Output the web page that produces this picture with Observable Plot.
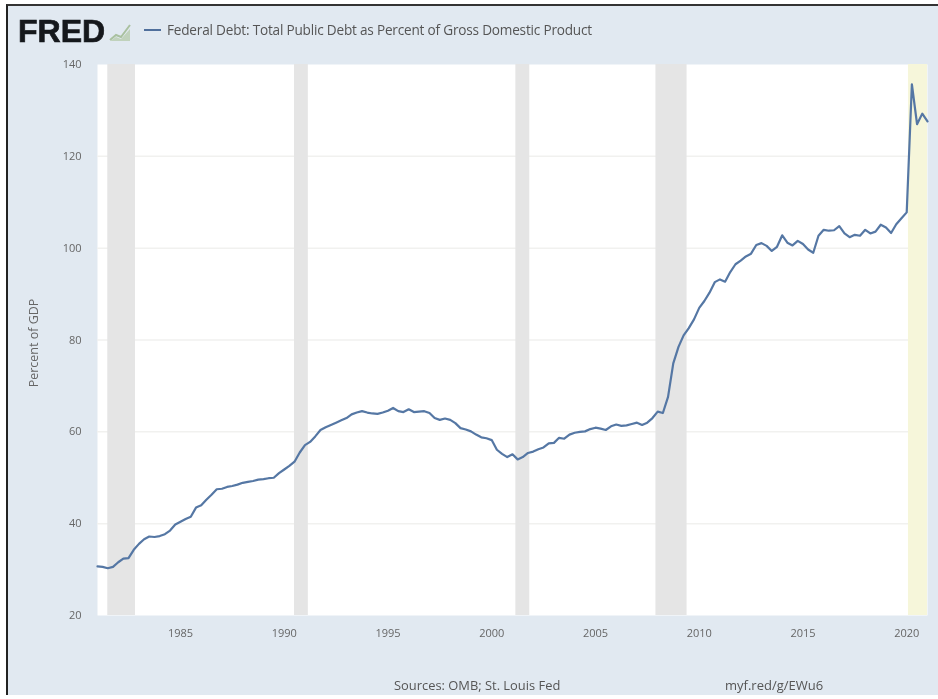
<!DOCTYPE html>
<html><head><meta charset="utf-8">
<script src="https://cdn.jsdelivr.net/npm/d3@7"></script>
<script src="https://cdn.jsdelivr.net/npm/@observablehq/plot@0.6"></script>
<style>
html,body{margin:0;padding:0;background:#fff;overflow:hidden}
#page{position:relative;width:938px;height:699px;overflow:hidden;filter:blur(0.7px)}
#panel{position:absolute;left:6px;top:4px;width:932px;height:691px;background:#e1e9f1;border-left:2px solid #222;border-top:2px solid #333;box-sizing:border-box}
#chart{position:absolute;left:0;top:0}
.t{position:absolute;font-family:"Open Sans",sans-serif;color:#555;white-space:nowrap}
#logo{left:18px;top:12px;font:bold 32px/38px "Liberation Sans",sans-serif;color:#15181c;-webkit-text-stroke:0.7px #15181c}
#dash{position:absolute;left:144px;top:29px;width:17px;height:2px;background:#4f6f9c}
#title{left:167px;top:20px;font-size:13.6px;line-height:20px;letter-spacing:-0.2px}
#src{left:394px;top:676px;font-size:12.9px;line-height:18px}
#url{left:725px;top:676px;font-size:13px;line-height:18px}
#icon{position:absolute;left:108px;top:22px;opacity:.8}
</style></head><body>
<div id="page">
<div id="panel"></div>
<div id="chart"></div>
<div class="t" id="logo">FRED</div>
<svg id="icon" width="26" height="20" viewBox="0 0 26 20"><path d="M2 18 L8 13 L13 15 L22 3" fill="none" stroke="#9cb88c" stroke-width="2"/><path d="M2 19 L8 15 L13 17 L22 7 L22 19 Z" fill="#b9cdb0"/></svg>
<div id="dash"></div>
<div class="t" id="title">Federal Debt: Total Public Debt as Percent of Gross Domestic Product</div>
<div class="t" id="src">Sources: OMB; St. Louis Fed</div>
<div class="t" id="url">myf.red/g/EWu6</div>
</div>
<script>
const startYear = 1981;
const debtPercentGDP = [
30.7,30.6,30.3,30.6, 31.6,32.4,32.5,34.3, 35.6,36.6,37.2,37.1,
37.3,37.7,38.5,39.8, 40.4,41.0,41.5,43.5, 44.0,45.2,46.3,47.5,
47.6,48.0,48.2,48.5, 48.9,49.1,49.3,49.6, 49.7,49.9,50.0,51.0,
51.8,52.6,53.5,55.5, 57.1,57.8,59.0,60.4, 61.0,61.5,62.0,62.5,
63.0,63.8,64.2,64.5, 64.2,64.0,63.9,64.2, 64.6,65.2,64.5,64.3,
64.9,64.3,64.4,64.5, 64.1,63.0,62.6,62.9, 62.6,61.9,60.8,60.5,
60.1,59.4,58.8,58.6, 58.2,56.1,55.2,54.5, 55.1,54.0,54.5,55.4,
55.7,56.2,56.6,57.5, 57.6,58.7,58.5,59.4, 59.8,60.0,60.1,60.6,
60.9,60.7,60.4,61.2, 61.6,61.3,61.4,61.7, 62.0,61.5,62.0,63.0,
64.4,64.1,67.6,74.9, 78.5,81.0,82.6,84.5, 87.0,88.5,90.3,92.6,
93.2,92.7,94.8,96.5, 97.3,98.2,98.8,100.7, 101.1,100.5,99.4,100.3,
102.8,101.2,100.6,101.6, 100.9,99.7,99.0,102.7, 104.0,103.8,103.9,104.8,
103.2,102.4,102.9,102.7, 104.0,103.2,103.6,105.1, 104.5,103.3,105.2,106.5,
107.8,135.7,127.0,129.3, 127.6];
const recessionStart = ["1981-07-01","1990-07-01","2001-03-01","2007-12-01"];
const recessionEnd   = ["1982-11-01","1991-03-01","2001-11-01","2009-06-01"];
const highlightStart = ["2020-02-01"];
const highlightEnd   = ["2021-01-01"];
const yTicks = [20,40,60,80,100,120,140];
const xTickYears = [1985,1990,1995,2000,2005,2010,2015,2020];
const yLabel = "Percent of GDP";

const series = debtPercentGDP.map((v,i)=>({date:new Date(Date.UTC(startYear+Math.floor(i/4),(i%4)*3,1)),value:v}));
const bands = (a,b)=>a.map((s,i)=>({x1:new Date(s),x2:new Date(b[i])}));

const chart = Plot.plot({
  width:938,height:699,
  marginLeft:97,marginRight:11,marginTop:64,marginBottom:84,
  style:{background:"transparent",fontFamily:"'Open Sans',sans-serif",fontSize:"11px",color:"#666"},
  x:{type:"utc",domain:[new Date(Date.UTC(1981,0,1)),new Date(Date.UTC(2021,0,1))]},
  y:{domain:[20,140]},
  marks:[
    Plot.frame({fill:"#fff",stroke:null}),
    Plot.ruleY(yTicks.slice(1,-1),{stroke:"#f1f1ef",strokeWidth:1.5}),
    Plot.rectY(bands(recessionStart,recessionEnd),{x1:"x1",x2:"x2",y1:20,y2:140,fill:"#e5e5e5"}),
    Plot.rectY(bands(highlightStart,highlightEnd),{x1:"x1",x2:"x2",y1:20,y2:140,fill:"#f6f6da"}),
    Plot.axisY({ticks:yTicks,tickSize:0,tickPadding:16,label:null,fill:"#666",fontSize:11}),
    Plot.text([yLabel],{text:d=>d,frameAnchor:"left",textAnchor:"middle",dx:-64,dy:3,rotate:-90,fill:"#666",fontSize:12.5}),
    Plot.axisX({ticks:xTickYears.map(y=>new Date(Date.UTC(y,0,1))),tickFormat:d=>String(d.getUTCFullYear()),tickSize:0,tickPadding:14,label:null,fill:"#666",fontSize:11}),
    Plot.line(series,{x:"date",y:"value",stroke:"#5577a4",strokeWidth:2.2,curve:"linear"})
  ]
});
document.getElementById("chart").append(chart);
</script>
</body></html>
